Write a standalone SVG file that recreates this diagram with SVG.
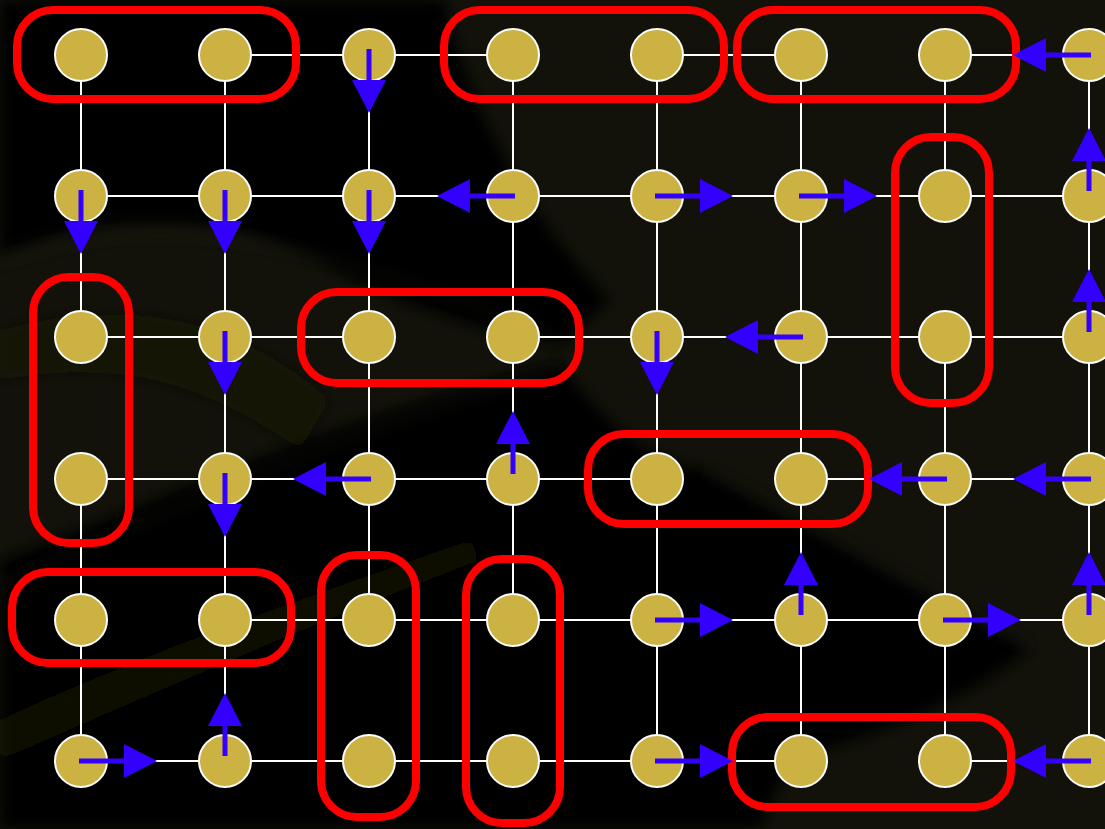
<svg xmlns="http://www.w3.org/2000/svg" width="1105" height="829" viewBox="0 0 1105 829">
<style>
.n{fill:#ccb243;stroke:#ffffff;stroke-width:2}
.e{fill:none;stroke:#ffffff;stroke-width:2}
.g{fill:none;stroke:#ff0000;stroke-width:8}
.a{stroke:#3300ff;stroke-width:5;fill:none;marker-end:url(#ah)}
</style>
<defs>
<filter id="soft" x="-10%" y="-10%" width="120%" height="120%"><feGaussianBlur stdDeviation="7"/></filter>
<marker id="ah" markerUnits="userSpaceOnUse" markerWidth="34" markerHeight="34" refX="1" refY="17" orient="auto" overflow="visible"><path d="M0,0 L33,17 L0,34 Z" fill="#3300ff"/></marker>
</defs>
<g id="background">
<rect width="1105" height="829" fill="#12120a"/>
<g filter="url(#soft)">
<path d="M0,0 H445 C470,120 540,230 610,300 L560,345 C470,330 390,300 320,262 C210,205 100,215 0,255 Z" fill="#000"/>
<path d="M0,560 C150,505 300,430 560,362 C600,420 650,462 705,470 L1030,648 C970,700 880,735 790,760 L760,829 H0 Z" fill="#020202"/>
<path d="M0,720 C150,650 300,600 470,540 L480,560 C320,620 160,690 0,760 Z" fill="#12120a" opacity="0.5"/>
<path d="M0,330 C150,290 250,330 330,400 L300,450 C200,380 120,360 0,380 Z" fill="#12120a" opacity="0.4"/>
</g>
<g filter="url(#soft)" fill="none" stroke="#3a3a32" stroke-width="3" opacity="0.35">
<path d="M0,262 C140,205 300,230 560,340"/>
<path d="M705,470 L1030,648"/>
<path d="M0,585 C150,520 320,440 560,370"/>
</g>
</g>
<g id="connectors">
<path class="e" d="M225,55 H513 M657,55 H801 M945,55 H1089 M81,196 H1089 M81,337 H369 M513,337 H1089 M81,479 H657 M801,479 H1089 M225,620 H1089 M81,761 H801 M945,761 H1089 M81,55 V337 M81,479 V761 M225,55 V761 M369,55 V620 M513,55 V620 M657,55 V761 M801,55 V761 M945,55 V196 M945,337 V761 M1089,55 V761"/>
</g>
<g id="matching">
<rect class="g" x="17" y="10" width="279" height="89" rx="36"/>
<rect class="g" x="444" y="10" width="280" height="89" rx="36"/>
<rect class="g" x="737" y="10" width="279" height="89" rx="36"/>
<rect class="g" x="895" y="137" width="94" height="266" rx="36"/>
<rect class="g" x="33" y="277" width="96" height="266" rx="36"/>
<rect class="g" x="301" y="292" width="278" height="91" rx="36"/>
<rect class="g" x="588" y="434" width="280" height="90" rx="36"/>
<rect class="g" x="12" y="572" width="279" height="91" rx="36"/>
<rect class="g" x="321" y="555" width="95" height="262" rx="36"/>
<rect class="g" x="466" y="559" width="94" height="264" rx="36"/>
<rect class="g" x="732" y="717" width="279" height="90" rx="36"/>
</g>
<g id="nodes">
<g id="n-0-0"><circle class="n" cx="81" cy="55" r="26"/></g>
<g id="n-1-0"><circle class="n" cx="225" cy="55" r="26"/></g>
<g id="n-2-0"><circle class="n" cx="369" cy="55" r="26"/></g>
<g id="n-3-0"><circle class="n" cx="513" cy="55" r="26"/></g>
<g id="n-4-0"><circle class="n" cx="657" cy="55" r="26"/></g>
<g id="n-5-0"><circle class="n" cx="801" cy="55" r="26"/></g>
<g id="n-6-0"><circle class="n" cx="945" cy="55" r="26"/></g>
<g id="n-7-0"><circle class="n" cx="1089" cy="55" r="26"/></g>
<g id="n-0-1"><circle class="n" cx="81" cy="196" r="26"/></g>
<g id="n-1-1"><circle class="n" cx="225" cy="196" r="26"/></g>
<g id="n-2-1"><circle class="n" cx="369" cy="196" r="26"/></g>
<g id="n-3-1"><circle class="n" cx="513" cy="196" r="26"/></g>
<g id="n-4-1"><circle class="n" cx="657" cy="196" r="26"/></g>
<g id="n-5-1"><circle class="n" cx="801" cy="196" r="26"/></g>
<g id="n-6-1"><circle class="n" cx="945" cy="196" r="26"/></g>
<g id="n-7-1"><circle class="n" cx="1089" cy="196" r="26"/></g>
<g id="n-0-2"><circle class="n" cx="81" cy="337" r="26"/></g>
<g id="n-1-2"><circle class="n" cx="225" cy="337" r="26"/></g>
<g id="n-2-2"><circle class="n" cx="369" cy="337" r="26"/></g>
<g id="n-3-2"><circle class="n" cx="513" cy="337" r="26"/></g>
<g id="n-4-2"><circle class="n" cx="657" cy="337" r="26"/></g>
<g id="n-5-2"><circle class="n" cx="801" cy="337" r="26"/></g>
<g id="n-6-2"><circle class="n" cx="945" cy="337" r="26"/></g>
<g id="n-7-2"><circle class="n" cx="1089" cy="337" r="26"/></g>
<g id="n-0-3"><circle class="n" cx="81" cy="479" r="26"/></g>
<g id="n-1-3"><circle class="n" cx="225" cy="479" r="26"/></g>
<g id="n-2-3"><circle class="n" cx="369" cy="479" r="26"/></g>
<g id="n-3-3"><circle class="n" cx="513" cy="479" r="26"/></g>
<g id="n-4-3"><circle class="n" cx="657" cy="479" r="26"/></g>
<g id="n-5-3"><circle class="n" cx="801" cy="479" r="26"/></g>
<g id="n-6-3"><circle class="n" cx="945" cy="479" r="26"/></g>
<g id="n-7-3"><circle class="n" cx="1089" cy="479" r="26"/></g>
<g id="n-0-4"><circle class="n" cx="81" cy="620" r="26"/></g>
<g id="n-1-4"><circle class="n" cx="225" cy="620" r="26"/></g>
<g id="n-2-4"><circle class="n" cx="369" cy="620" r="26"/></g>
<g id="n-3-4"><circle class="n" cx="513" cy="620" r="26"/></g>
<g id="n-4-4"><circle class="n" cx="657" cy="620" r="26"/></g>
<g id="n-5-4"><circle class="n" cx="801" cy="620" r="26"/></g>
<g id="n-6-4"><circle class="n" cx="945" cy="620" r="26"/></g>
<g id="n-7-4"><circle class="n" cx="1089" cy="620" r="26"/></g>
<g id="n-0-5"><circle class="n" cx="81" cy="761" r="26"/></g>
<g id="n-1-5"><circle class="n" cx="225" cy="761" r="26"/></g>
<g id="n-2-5"><circle class="n" cx="369" cy="761" r="26"/></g>
<g id="n-3-5"><circle class="n" cx="513" cy="761" r="26"/></g>
<g id="n-4-5"><circle class="n" cx="657" cy="761" r="26"/></g>
<g id="n-5-5"><circle class="n" cx="801" cy="761" r="26"/></g>
<g id="n-6-5"><circle class="n" cx="945" cy="761" r="26"/></g>
<g id="n-7-5"><circle class="n" cx="1089" cy="761" r="26"/></g>
</g>
<g id="arrows">
<line class="a" x1="369" y1="49" x2="369" y2="81"/>
<line class="a" x1="1091" y1="55" x2="1045" y2="55"/>
<line class="a" x1="81" y1="190" x2="81" y2="222"/>
<line class="a" x1="225" y1="190" x2="225" y2="222"/>
<line class="a" x1="369" y1="190" x2="369" y2="222"/>
<line class="a" x1="515" y1="196" x2="469" y2="196"/>
<line class="a" x1="655" y1="196" x2="701" y2="196"/>
<line class="a" x1="799" y1="196" x2="845" y2="196"/>
<line class="a" x1="1089" y1="191" x2="1089" y2="160"/>
<line class="a" x1="225" y1="331" x2="225" y2="363"/>
<line class="a" x1="657" y1="331" x2="657" y2="363"/>
<line class="a" x1="803" y1="337" x2="757" y2="337"/>
<line class="a" x1="1089" y1="332" x2="1089" y2="301"/>
<line class="a" x1="225" y1="473" x2="225" y2="505"/>
<line class="a" x1="371" y1="479" x2="325" y2="479"/>
<line class="a" x1="513" y1="474" x2="513" y2="443"/>
<line class="a" x1="947" y1="479" x2="901" y2="479"/>
<line class="a" x1="1091" y1="479" x2="1045" y2="479"/>
<line class="a" x1="655" y1="620" x2="701" y2="620"/>
<line class="a" x1="801" y1="615" x2="801" y2="584"/>
<line class="a" x1="943" y1="620" x2="989" y2="620"/>
<line class="a" x1="1089" y1="615" x2="1089" y2="584"/>
<line class="a" x1="79" y1="761" x2="125" y2="761"/>
<line class="a" x1="225" y1="756" x2="225" y2="725"/>
<line class="a" x1="655" y1="761" x2="701" y2="761"/>
<line class="a" x1="1091" y1="761" x2="1045" y2="761"/>
</g>
</svg>
